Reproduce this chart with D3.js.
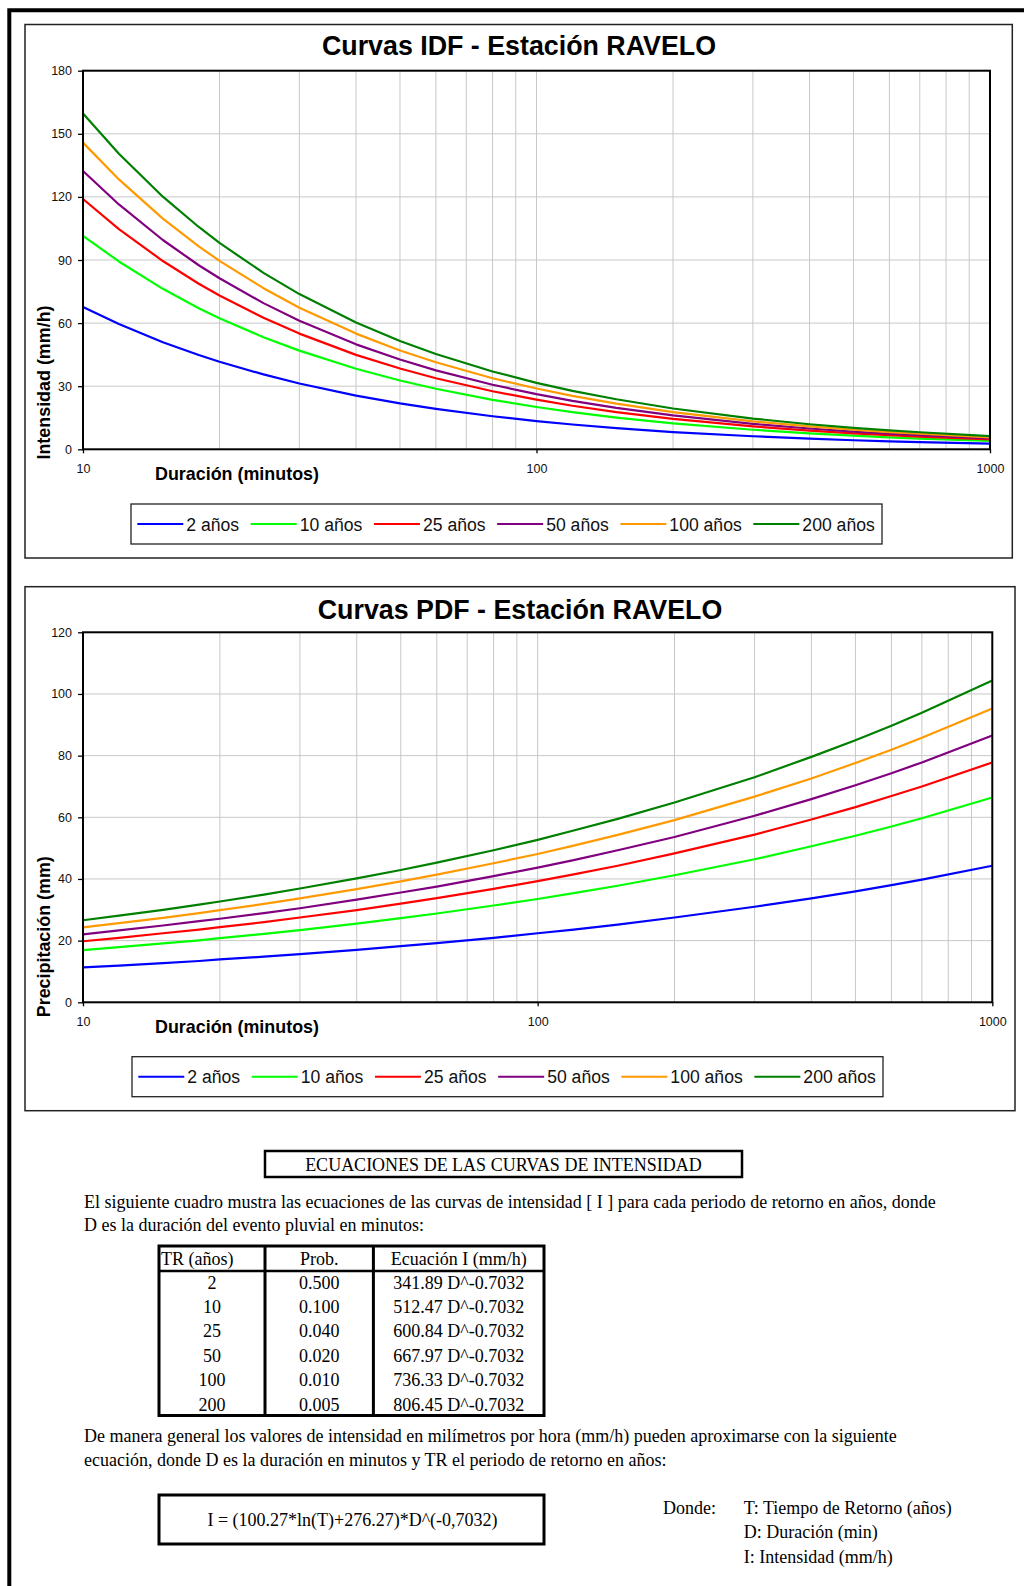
<!DOCTYPE html>
<html>
<head>
<meta charset="utf-8">
<script src="https://cdn.jsdelivr.net/npm/d3@7"></script>
<style>
  body { margin: 0; background: #fff; }
  svg { display: block; }
</style>
</head>
<body>
<div id="page"></div>
<script>
// durations (min) read on the log axis
var durations = [10, 12, 15, 18, 20, 25, 30, 40, 50, 60, 80, 100, 120, 150, 200, 300, 400, 500, 600, 700, 1000];

var seriesNames = ['2 años', '10 años', '25 años', '50 años', '100 años', '200 años'];
var seriesColors = ['#0000ff', '#00ff00', '#ff0000', '#800080', '#ff9900', '#008000'];

// intensity (mm/h)
var int2   = [67.7, 59.6, 50.9, 44.8, 41.6, 35.6, 31.3, 25.5, 21.8, 19.2, 15.7, 13.4, 11.8, 10.1, 8.2, 6.2, 5.1, 4.3, 3.8, 3.4, 2.7];
var int10  = [101.5, 89.3, 76.3, 67.1, 62.3, 53.3, 46.9, 38.3, 32.7, 28.8, 23.5, 20.1, 17.7, 15.1, 12.3, 9.3, 7.6, 6.5, 5.7, 5.1, 4.0];
var int25  = [119.0, 104.7, 89.5, 78.7, 73.1, 62.5, 55.0, 44.9, 38.4, 33.8, 27.6, 23.6, 20.7, 17.7, 14.5, 10.9, 8.9, 7.6, 6.7, 6.0, 4.7];
var int50  = [132.3, 116.4, 99.5, 87.5, 81.3, 69.5, 61.1, 49.9, 42.7, 37.5, 30.7, 26.2, 23.0, 19.7, 16.1, 12.1, 9.9, 8.4, 7.4, 6.7, 5.2];
var int100 = [145.8, 128.3, 109.7, 96.5, 89.6, 76.6, 67.3, 55.0, 47.0, 41.4, 33.8, 28.9, 25.4, 21.7, 17.7, 13.3, 10.9, 9.3, 8.2, 7.4, 5.7];
var int200 = [159.7, 140.5, 120.1, 105.7, 98.1, 83.9, 73.8, 60.3, 51.5, 45.3, 37.0, 31.6, 27.8, 23.8, 19.4, 14.6, 11.9, 10.2, 9.0, 8.1, 6.3];

// precipitation (mm)
var prec2   = [11.3, 11.9, 12.7, 13.4, 13.9, 14.8, 15.6, 17.0, 18.2, 19.2, 20.9, 22.4, 23.6, 25.2, 27.5, 31.0, 33.7, 36.0, 38.0, 39.8, 44.3];
var prec10  = [16.9, 17.9, 19.1, 20.1, 20.8, 22.2, 23.4, 25.5, 27.3, 28.8, 31.4, 33.5, 35.4, 37.8, 41.2, 46.4, 50.6, 54.0, 57.0, 59.7, 66.4];
var prec25  = [19.8, 20.9, 22.4, 23.6, 24.4, 26.0, 27.5, 29.9, 32.0, 33.8, 36.8, 39.3, 41.5, 44.3, 48.3, 54.4, 59.3, 63.3, 66.9, 70.0, 77.8];
var prec50  = [22.0, 23.3, 24.9, 26.3, 27.1, 28.9, 30.5, 33.3, 35.6, 37.5, 40.9, 43.7, 46.1, 49.3, 53.6, 60.5, 65.9, 70.4, 74.3, 77.8, 86.5];
var prec100 = [24.3, 25.7, 27.4, 28.9, 29.9, 31.9, 33.7, 36.7, 39.2, 41.4, 45.1, 48.1, 50.8, 54.3, 59.1, 66.7, 72.6, 77.6, 81.9, 85.8, 95.3];
var prec200 = [26.6, 28.1, 30.0, 31.7, 32.7, 34.9, 36.9, 40.2, 42.9, 45.3, 49.3, 52.7, 55.7, 59.5, 64.8, 73.0, 79.6, 85.0, 89.7, 93.9, 104.4];

var idfTicks = [0, 30, 60, 90, 120, 150, 180];
var pdfTicks = [0, 20, 40, 60, 80, 100, 120];
var xLabelTicks = [10, 100, 1000];

// table
var trYears = ['2', '10', '25', '50', '100', '200'];
var probs = ['0.500', '0.100', '0.040', '0.020', '0.010', '0.005'];
var eqCoefs = ['341.89', '512.47', '600.84', '667.97', '736.33', '806.45'];

var SANS = '"Liberation Sans", Arial, sans-serif';
var SERIF = '"Liberation Serif", "Times New Roman", serif';

var svg = d3.select('#page').append('svg')
  .attr('width', 1024)
  .attr('height', 1586);

// outer frame (top + left only)
svg.append('path')
  .attr('d', 'M9.3,1586V10.3H1024')
  .attr('fill', 'none')
  .attr('stroke', '#000')
  .attr('stroke-width', 4);

function drawChart(c) {
  var g = svg.append('g');

  g.append('rect')
    .attr('x', c.box[0]).attr('y', c.box[1])
    .attr('width', c.box[2] - c.box[0])
    .attr('height', c.box[3] - c.box[1])
    .attr('fill', '#fff')
    .attr('stroke', '#222')
    .attr('stroke-width', 1.5);

  var x = d3.scaleLog().domain([10, 1000]).range([c.plot[0], c.plot[2]]);
  var y = d3.scaleLinear().domain([0, c.yMax]).range([c.plot[3], c.plot[1]]);

  // grid
  g.append('g').selectAll('line')
    .data(x.ticks())
    .enter().append('line')
    .attr('x1', function(d) { return x(d); })
    .attr('x2', function(d) { return x(d); })
    .attr('y1', c.plot[1]).attr('y2', c.plot[3])
    .attr('stroke', '#c8c8c8').attr('stroke-width', 1);

  g.append('g').selectAll('line')
    .data(c.yTicks)
    .enter().append('line')
    .attr('x1', c.plot[0]).attr('x2', c.plot[2])
    .attr('y1', function(d) { return y(d); })
    .attr('y2', function(d) { return y(d); })
    .attr('stroke', '#c8c8c8').attr('stroke-width', 1);

  // axes
  var yAxis = g.append('g')
    .attr('transform', 'translate(' + c.plot[0] + ',0)')
    .call(d3.axisLeft(y).tickValues(c.yTicks).tickSize(5).tickPadding(6));
  var xAxis = g.append('g')
    .attr('transform', 'translate(0,' + c.plot[3] + ')')
    .call(d3.axisBottom(x).tickValues(xLabelTicks).tickFormat(d3.format('d')).tickSize(4).tickPadding(11));

  [xAxis, yAxis].forEach(function(a) {
    a.select('.domain').remove();
    a.selectAll('.tick line').attr('stroke', '#000').attr('stroke-width', 1.3);
    a.selectAll('.tick text')
      .attr('font-family', SANS)
      .attr('font-size', 12.5)
      .attr('fill', '#111');
  });

  // series
  var line = d3.line()
    .x(function(d, i) { return x(durations[i]); })
    .y(function(d) { return y(d); });

  g.append('g').selectAll('path')
    .data(c.series)
    .enter().append('path')
    .attr('d', line)
    .attr('fill', 'none')
    .attr('stroke', function(d, i) { return seriesColors[i]; })
    .attr('stroke-width', 2.2)
    .attr('stroke-linejoin', 'round');

  // plot border
  g.append('rect')
    .attr('x', c.plot[0]).attr('y', c.plot[1])
    .attr('width', c.plot[2] - c.plot[0])
    .attr('height', c.plot[3] - c.plot[1])
    .attr('fill', 'none')
    .attr('stroke', '#000')
    .attr('stroke-width', 2);

  // titles
  g.append('text')
    .attr('x', c.titleX).attr('y', c.titleY)
    .attr('text-anchor', 'middle')
    .attr('font-family', SANS)
    .attr('font-weight', 'bold')
    .attr('font-size', 26.8)
    .text(c.title);

  g.append('text')
    .attr('x', 155).attr('y', c.plot[3] + 30.5)
    .attr('font-family', SANS)
    .attr('font-weight', 'bold')
    .attr('font-size', 17.9)
    .text('Duración (minutos)');

  g.append('text')
    .attr('transform', 'translate(50,' + c.yLabelY + ') rotate(-90)')
    .attr('text-anchor', 'middle')
    .attr('font-family', SANS)
    .attr('font-weight', 'bold')
    .attr('font-size', 17.9)
    .text(c.yLabel);

  // legend
  var L = c.legend;
  g.append('rect')
    .attr('x', L[0]).attr('y', L[1])
    .attr('width', L[2] - L[0]).attr('height', L[3] - L[1])
    .attr('fill', '#fff')
    .attr('stroke', '#222')
    .attr('stroke-width', 1.3);

  var cx = L[0] + 6.3;
  var ly = (L[1] + L[3]) / 2;
  seriesNames.forEach(function(name, i) {
    g.append('line')
      .attr('x1', cx).attr('x2', cx + 46)
      .attr('y1', ly).attr('y2', ly)
      .attr('stroke', seriesColors[i])
      .attr('stroke-width', 2);
    var t = g.append('text')
      .attr('x', cx + 49).attr('y', ly + 6.5)
      .attr('font-family', SANS)
      .attr('font-size', 17.6)
      .attr('fill', '#111')
      .text(name);
    cx += 49 + t.node().getComputedTextLength() + 11.6;
  });
}

drawChart({
  box: [25, 24.5, 1012.3, 558],
  plot: [83, 70.7, 990, 449.3],
  yMax: 180,
  yTicks: idfTicks,
  series: [int2, int10, int25, int50, int100, int200],
  title: 'Curvas IDF - Estación RAVELO',
  titleX: 519, titleY: 55,
  yLabel: 'Intensidad (mm/h)',
  yLabelY: 382.5,
  legend: [131, 504, 882, 544]
});

drawChart({
  box: [25, 586.7, 1015, 1110.7],
  plot: [83, 632.3, 992.3, 1002.3],
  yMax: 120,
  yTicks: pdfTicks,
  series: [prec2, prec10, prec25, prec50, prec100, prec200],
  title: 'Curvas PDF - Estación RAVELO',
  titleX: 520, titleY: 619.3,
  yLabel: 'Precipitación (mm)',
  yLabelY: 936.7,
  legend: [132, 1056.7, 883, 1096.7]
});

// ---- equations section ----
var FS = 18;

function serifText(x, y, s, anchor) {
  return svg.append('text')
    .attr('x', x).attr('y', y)
    .attr('text-anchor', anchor || 'start')
    .attr('font-family', SERIF)
    .attr('font-size', FS)
    .attr('fill', '#000')
    .text(s);
}

svg.append('rect')
  .attr('x', 265).attr('y', 1151)
  .attr('width', 477).attr('height', 26)
  .attr('fill', 'none').attr('stroke', '#000').attr('stroke-width', 2.5);
serifText(503.5, 1170.5, 'ECUACIONES DE LAS CURVAS DE INTENSIDAD', 'middle');

serifText(84, 1208, 'El siguiente cuadro mustra las ecuaciones de las curvas de intensidad [ I ] para cada periodo de retorno en años, donde');
serifText(84, 1230.5, 'D es la duración del evento pluvial en minutos:');

// table
var tbl = { left: 159, c1: 265, c2: 373.4, right: 544, top: 1246, head: 1271, bottom: 1415.5 };
svg.append('rect')
  .attr('x', tbl.left).attr('y', tbl.top)
  .attr('width', tbl.right - tbl.left).attr('height', tbl.bottom - tbl.top)
  .attr('fill', 'none').attr('stroke', '#000').attr('stroke-width', 3);
[tbl.c1, tbl.c2].forEach(function(xx) {
  svg.append('line')
    .attr('x1', xx).attr('x2', xx).attr('y1', tbl.top).attr('y2', tbl.bottom)
    .attr('stroke', '#000').attr('stroke-width', 3);
});
svg.append('line')
  .attr('x1', tbl.left).attr('x2', tbl.right).attr('y1', tbl.head).attr('y2', tbl.head)
  .attr('stroke', '#000').attr('stroke-width', 2.5);

serifText(tbl.left + 2, 1264.5, 'TR (años)');
serifText((tbl.c1 + tbl.c2) / 2, 1264.5, 'Prob.', 'middle');
serifText((tbl.c2 + tbl.right) / 2, 1264.5, 'Ecuación I (mm/h)', 'middle');

trYears.forEach(function(tr, i) {
  var yy = 1288.5 + i * 24.4;
  serifText((tbl.left + tbl.c1) / 2, yy, tr, 'middle');
  serifText((tbl.c1 + tbl.c2) / 2, yy, probs[i], 'middle');
  serifText((tbl.c2 + tbl.right) / 2, yy, eqCoefs[i] + ' D^-0.7032', 'middle');
});

serifText(84, 1441.5, 'De manera general los valores de intensidad en milímetros por hora (mm/h) pueden aproximarse con la siguiente');
serifText(84, 1465.5, 'ecuación, donde D es la duración en minutos y TR el periodo de retorno en años:');

svg.append('rect')
  .attr('x', 159).attr('y', 1495)
  .attr('width', 385).attr('height', 49)
  .attr('fill', 'none').attr('stroke', '#000').attr('stroke-width', 3);
serifText(352.5, 1525.5, 'I = (100.27*ln(T)+276.27)*D^(-0,7032)', 'middle');

serifText(663, 1514, 'Donde:');
serifText(743.7, 1514, 'T: Tiempo de Retorno (años)');
serifText(743.7, 1538.3, 'D: Duración (min)');
serifText(743.7, 1562.5, 'I: Intensidad (mm/h)');
</script>
</body>
</html>
